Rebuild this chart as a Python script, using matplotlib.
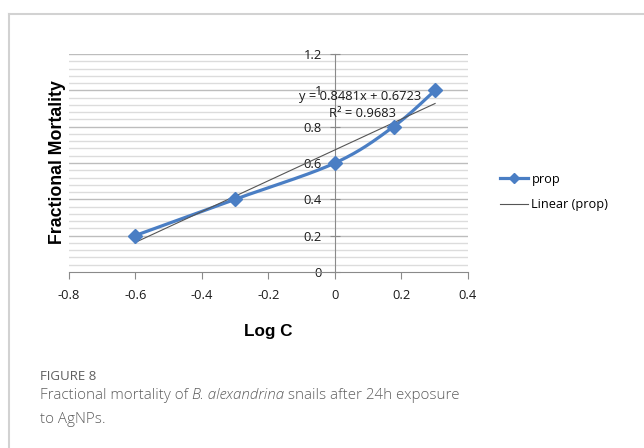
import matplotlib
matplotlib.use("Agg")
import matplotlib.pyplot as plt
from matplotlib.lines import Line2D
import numpy as np

# data
log_c = [-0.602, -0.301, 0.0, 0.176, 0.301]
mortality = [0.2, 0.4, 0.6, 0.8, 1.0]
slope = 0.8481
intercept = 0.6723
r2 = 0.9683
x_ticks = [-0.8, -0.6, -0.4, -0.2, 0, 0.2, 0.4]
x_labels = ["-0.8", "-0.6", "-0.4", "-0.2", "0", "0.2", "0.4"]
y_ticks = [0, 0.2, 0.4, 0.6, 0.8, 1.0, 1.2]
y_labels = ["0", "0.2", "0.4", "0.6", "0.8", "1", "1.2"]

W, H = 644, 448
fig = plt.figure(figsize=(W / 100, H / 100), dpi=100)

def px(x0, y0, x1, y1):
    return [x0 / W, 1 - y1 / H, (x1 - x0) / W, (y1 - y0) / H]

# light frame (top and left edges only visible)
fig.add_artist(Line2D([9 / W, 1], [1 - 14 / H, 1 - 14 / H], color="#d2d2d2", lw=1.5))
fig.add_artist(Line2D([9 / W, 9 / W], [0, 1 - 14 / H], color="#d2d2d2", lw=1.5))

ax = fig.add_axes(px(69, 54, 468, 272))
ax.set_xlim(-0.8, 0.4)
ax.set_ylim(0, 1.2)

# gridlines
for v in np.arange(0.04, 1.2001, 0.04):
    major = abs(v / 0.2 - round(v / 0.2)) < 1e-6
    ax.axhline(v, color="#bdbdbd" if major else "#dcdcdc", lw=1.0, zorder=0)

for s in ["top", "right"]:
    ax.spines[s].set_visible(False)
ax.spines["left"].set_position(("data", 0))
ax.spines["left"].set_color("#8a8a8a")
ax.spines["bottom"].set_color("#8a8a8a")
ax.spines["left"].set_linewidth(0.8)
ax.spines["bottom"].set_linewidth(0.8)

tick_font = "Open Sans"
ax.set_xticks(x_ticks)
ax.set_xticklabels(x_labels, fontfamily=tick_font, fontsize=9.3, color="#1a1a1a")
ax.set_yticks(y_ticks)
ax.set_yticklabels(y_labels, fontfamily=tick_font, fontsize=9.3, color="#1a1a1a")
ax.tick_params(axis="x", direction="out", length=5, color="#8a8a8a", pad=7)
ax.tick_params(axis="y", direction="inout", length=7, color="#8a8a8a", pad=6)

# Excel-style smoothed line (Bezier through points)
pts = np.column_stack([log_c, mortality])
ext = np.vstack([pts[0], pts, pts[-1]])
curve = []
t = np.linspace(0, 1, 40)[:, None]
for i in range(1, len(ext) - 2):
    p0, p3 = ext[i], ext[i + 1]
    p1 = p0 + (ext[i + 1] - ext[i - 1]) / 6
    p2 = p3 - (ext[i + 2] - ext[i]) / 6
    seg = (1 - t) ** 3 * p0 + 3 * (1 - t) ** 2 * t * p1 + 3 * (1 - t) * t ** 2 * p2 + t ** 3 * p3
    curve.append(seg)
curve = np.vstack(curve)
blue = "#4a7ec4"
ax.plot(curve[:, 0], curve[:, 1], color=blue, lw=2.3, zorder=3, solid_capstyle="round")
ax.plot(log_c, mortality, linestyle="none", marker="D", ms=7, color=blue, zorder=4)

# trendline
tx = np.array([min(log_c), max(log_c)])
ax.plot(tx, slope * tx + intercept, color="#555555", lw=0.8, zorder=3)

ax.text(0.077, 0.965, f"y = {slope}x + {intercept}", ha="center", va="center",
        fontfamily=tick_font, fontsize=9.3, color="#1a1a1a", zorder=5)
ax.text(0.082, 0.873, f"R² = {r2}", ha="center", va="center",
        fontfamily=tick_font, fontsize=9.3, color="#1a1a1a", zorder=5)

ax.set_xlabel("Log C", fontfamily="Liberation Sans", fontweight="bold", fontsize=12.3, labelpad=16)
fig.text(58 / W, 1 - 162 / H, "Fractional Mortality", rotation=90, ha="center", va="center",
         fontfamily="Liberation Sans", fontweight="bold", fontsize=12.8)

handles = [Line2D([], [], color=blue, lw=2.3, marker="D", ms=5),
           Line2D([], [], color="#555555", lw=0.8)]
fig.legend(handles, ["prop", "Linear (prop)"], loc="center left",
           bbox_to_anchor=(488 / W, 1 - 192 / H), frameon=False,
           prop={"family": tick_font, "size": 9.2}, handlelength=2.2,
           handletextpad=0.3, labelspacing=1.0)

# caption
cap_font = "Open Sans"
fig.text(40 / W, 1 - 377 / H, "FIGURE 8", ha="left", va="center",
         fontfamily=cap_font, fontsize=9.5, color="#5f5f5f")
fig.canvas.draw()
renderer = fig.canvas.get_renderer()
y1 = 1 - 395 / H
xcur = 40 / W
for piece, style in [("Fractional mortality of ", "normal"), ("B. alexandrina", "italic"),
                     (" snails after 24h exposure", "normal")]:
    tt = fig.text(xcur, y1, piece, ha="left", va="center", fontfamily=cap_font,
                  fontsize=10.9, fontstyle=style, color="#5e5e5e", fontweight="light")
    bb = tt.get_window_extent(renderer)
    xcur = bb.x1 / W
fig.text(40 / W, 1 - 419 / H, "to AgNPs.", ha="left", va="center", fontfamily=cap_font,
         fontsize=10.9, color="#5e5e5e", fontweight="light")

fig.savefig("out.png", dpi=100)
